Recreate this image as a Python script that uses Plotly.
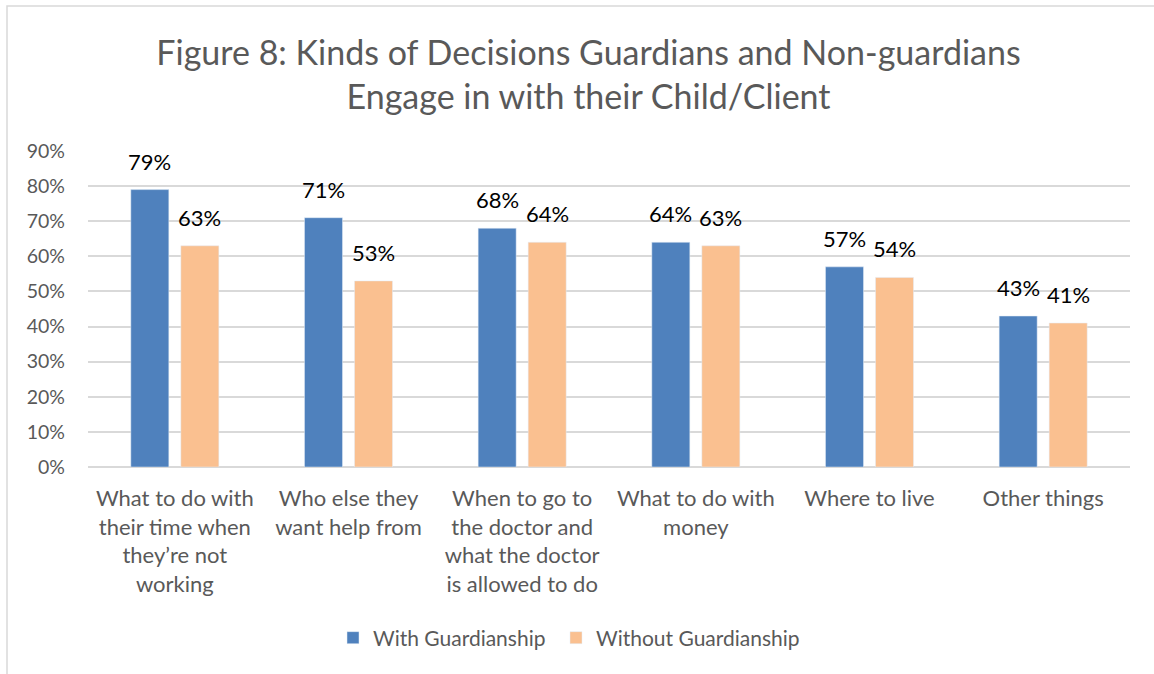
import plotly.graph_objects as go

categories = [
    "What to do with<br>their time when<br>they\u2019re not<br>working",
    "Who else they<br>want help from",
    "When to go to<br>the doctor and<br>what the doctor<br>is allowed to do",
    "What to do with<br>money",
    "Where to live",
    "Other things",
]
with_guardianship = [0.79, 0.71, 0.68, 0.64, 0.57, 0.43]
without_guardianship = [0.63, 0.53, 0.64, 0.63, 0.54, 0.41]
y_ticks = [0, 0.1, 0.2, 0.3, 0.4, 0.5, 0.6, 0.7, 0.8, 0.9]
y_tick_labels = ["0%", "10%", "20%", "30%", "40%", "50%", "60%", "70%", "80%", "90%"]

FONT = "Lato, Open Sans, sans-serif"
GRAY = "#595959"

fig = go.Figure()
fig.add_trace(go.Bar(
    name="With Guardianship", x=categories, y=with_guardianship,
    marker=dict(color="#4F81BD"), textposition="none", legend="legend",
))
fig.add_trace(go.Bar(
    name="Without Guardianship", x=categories, y=without_guardianship,
    marker=dict(color="#FAC090"), textposition="none", legend="legend2",
))

annotations = []
for series, shift in ((with_guardianship, -25), (without_guardianship, 25)):
    for cat, val in zip(categories, series):
        annotations.append(dict(
            x=cat, y=val, xref="x", yref="y", text=f"{val:.0%}",
            showarrow=False, xanchor="center", yanchor="bottom",
            xshift=shift, yshift=13,
            font=dict(size=22, color="#000000", family=FONT),
        ))

L, R, T, B = 88, 24, 151, 207
W, H = 1154, 674
pw, ph = W - L - R, H - T - B
leg_y = -(638 - (H - B)) / ph

fig.update_layout(
    width=W, height=H,
    margin=dict(l=L, r=R, t=T, b=B),
    paper_bgcolor="white", plot_bgcolor="white",
    barmode="group", bargap=0.424, bargroupgap=0.24,
    font=dict(family=FONT, color=GRAY, size=20),
    title=dict(
        text="Figure 8: Kinds of Decisions Guardians and Non-guardians<br>Engage in with their Child/Client",
        x=0.51, xanchor="center", y=1 - 65 / H, yanchor="middle",
        font=dict(size=34, color=GRAY, family=FONT),
    ),
    legend=dict(
        orientation="h", x=(333 - L) / pw, xanchor="left",
        y=leg_y, yanchor="middle",
        font=dict(size=21, color=GRAY, family=FONT),
    ),
    legend2=dict(
        orientation="h", x=(556 - L) / pw, xanchor="left",
        y=leg_y, yanchor="middle",
        font=dict(size=21, color=GRAY, family=FONT),
    ),
    showlegend=True,
    annotations=annotations,
    xaxis=dict(
        showgrid=False, showline=False, ticks="",
        tickfont=dict(size=22, color=GRAY, family=FONT),
        ticklabelstandoff=16,
    ),
    yaxis=dict(
        range=[0, 0.9], tickvals=y_ticks, ticktext=y_tick_labels,
        showgrid=True, gridcolor="#D9D9D9", gridwidth=1.5,
        zeroline=True, zerolinecolor="#D9D9D9", zerolinewidth=1.5,
        showline=False, ticks="",
        tickfont=dict(size=19.5, color=GRAY, family=FONT),
        ticklabelstandoff=22,
    ),
    shapes=[dict(
        type="rect", xref="paper", yref="paper",
        x0=(7 - L) / pw, x1=1.5, y0=-1.5, y1=((H - B) - 6) / ph,
        line=dict(color="#D9D9D9", width=1.5), layer="below",
    )],
)

fig.write_html("out.html")
